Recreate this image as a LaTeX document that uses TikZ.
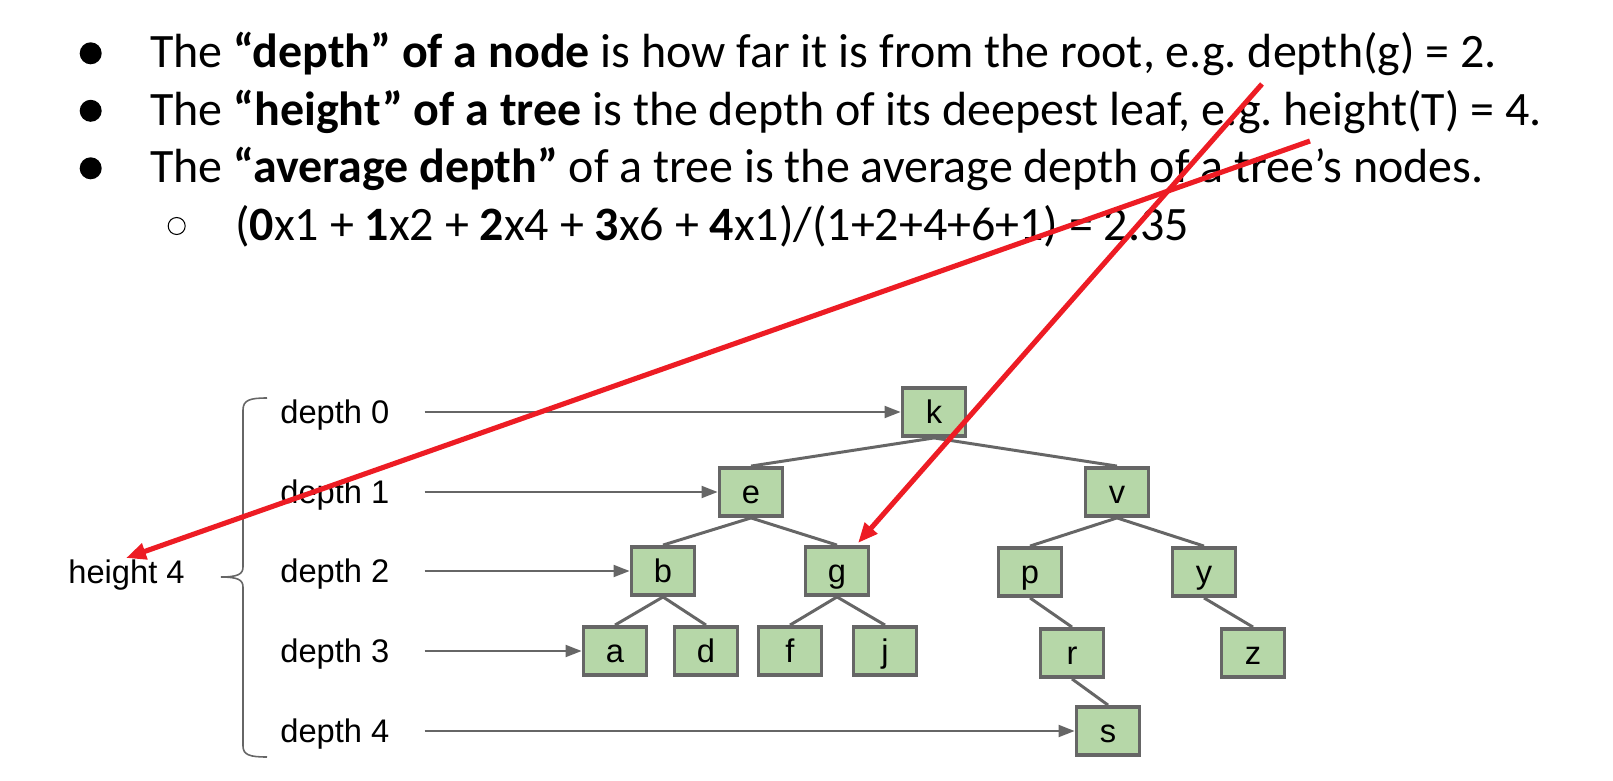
\documentclass[tikz,border=0pt]{standalone}
\usepackage{fontspec}
\setmainfont{Carlito}
\newfontfamily\arialfont{Liberation Sans}
\usetikzlibrary{arrows.meta}
\definecolor{boxgreen}{RGB}{182,215,168}
\definecolor{boxgray}{RGB}{102,102,102}
\definecolor{markred}{RGB}{237,28,36}
\tikzset{
  treenode/.style={draw=boxgray, line width=2.2pt, fill=boxgreen, minimum width=1.26cm, minimum height=0.96cm, inner sep=0pt,
    font=\arialfont\fontsize{18.6}{20}\selectfont, text height=13.3pt, text depth=0pt},
  treeedge/.style={boxgray, line width=1.7pt},
  depthlabel/.style={anchor=west, inner sep=0pt, font=\arialfont\fontsize{18.6}{20}\selectfont, text height=13.3pt, text depth=0pt},
  deptharrow/.style={boxgray, line width=1.1pt, -{Triangle[length=0.32cm,width=0.24cm]}},
  redmark/.style={markred, line width=2.9pt, -{Triangle[length=0.4cm,width=0.32cm]}},
  bullettext/.style={anchor=base west, inner sep=0pt, font=\fontsize{27.3}{31}\selectfont}
}
\frenchspacing
\begin{document}
\begin{tikzpicture}[x=0.02cm, y=-0.02cm]
\useasboundingbox (0,0) rectangle (1613,781);
% bullet list
\foreach \i/\yb in {1/67.7,2/125.2,3/182.7}
  \node[circle, fill=black, inner sep=0pt, minimum size=0.44cm] (dot\i) at (90.7,\yb-14.4) {};
\node[circle, draw=black, line width=0.6pt, inner sep=0pt, minimum size=0.34cm] (ring) at (176.7,226) {};
\node[bullettext] (line1) at (150,67.7) {The \textbf{“depth” of a node} is how far it is from the root, e.g. depth(g) = 2.};
\node[bullettext] (line2) at (150,125.2) {The \textbf{“height” of a tree} is the depth of its deepest leaf, e.g. height(T) = 4.};
\node[bullettext] (line3) at (150,182.7) {The \textbf{“average depth”} of a tree is the average depth of a tree’s nodes.};
\node[bullettext] (line4) at (235,240.2) {(\textbf{0}x1 + \textbf{1}x2 + \textbf{2}x4 + \textbf{3}x6 + \textbf{4}x1)/(1+2+4+6+1) = 2.35};
% tree
\node[treenode] (k) at (934,412) {k};
\node[treenode] (e) at (751,492) {e};
\node[treenode] (v) at (1117,492) {v};
\node[treenode] (b) at (663,571) {b};
\node[treenode] (g) at (837,571) {g};
\node[treenode] (p) at (1030,572) {p};
\node[treenode] (y) at (1204,572) {y};
\node[treenode] (a) at (615,651) {a};
\node[treenode] (d) at (706,651) {d};
\node[treenode] (f) at (790,651) {f};
\node[treenode] (j) at (885,651) {j};
\node[treenode] (r) at (1072,653) {r};
\node[treenode] (z) at (1253,653) {z};
\node[treenode] (s) at (1108,731) {s};
\foreach \p/\c in {k/e,k/v,e/b,e/g,v/p,v/y,b/a,b/d,g/f,g/j,p/r,r/s,y/z}
  \draw[treeedge] (\p.south) -- (\c.north);
% depth rows
\foreach \n/\row [count=\i from 0] in {k/412,e/492,b/571,a/651,s/731} {
  \node[depthlabel] (depth\i) at (280,\row) {depth \i};
  \draw[deptharrow] ([xshift=0.7cm]depth\i.east) -- (\n);
}
% brace
\draw[boxgray, line width=0.9pt] (267,398) .. controls (250,398) and (243,400) .. (243,410) -- (243,567)
  .. controls (243,574) and (238,577) .. (221,577) .. controls (238,577) and (243,580) .. (243,587)
  -- (243,746) .. controls (243,755) and (250,757) .. (267,757);
\node[depthlabel] (height) at (68,572) {height 4};
% red marks
\coordinate (redA) at (1310,141);
\coordinate (tipA) at (126,558);
\coordinate (redB) at (1262,84);
\coordinate (tipB) at (858,543);
\draw[redmark] (redA) -- (tipA);
\draw[redmark] (redB) -- (tipB);
\end{tikzpicture}
\end{document}
